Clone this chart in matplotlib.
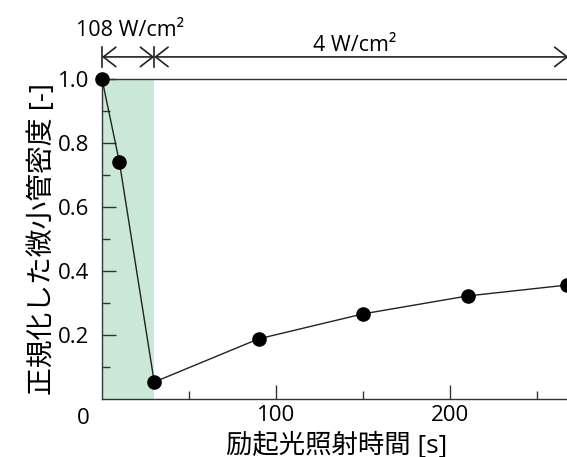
import matplotlib
matplotlib.use("Agg")
import matplotlib.pyplot as plt
from matplotlib.ticker import FixedLocator

plt.rcParams['font.family'] = ['Open Sans', 'Noto Sans CJK JP', 'DejaVu Sans']

# data
time_s = [0, 10, 30, 90, 150, 210, 267]
density = [1.0, 0.74, 0.053, 0.188, 0.266, 0.322, 0.356]
high_end = 30
x_end = 270
label_high = "108 W/cm²"
label_low = "4 W/cm²"
xlabel = "励起光照射時間 [s]"
ylabel = "正規化した微小管密度 [-]"

W, H = 567, 457
fig = plt.figure(figsize=(W / 100, H / 100), dpi=100)
left, right, bottom, top = 102, 572, 399, 79
ax = fig.add_axes([left / W, (H - bottom) / H, (right - left) / W, (bottom - top) / H])

ax.axvspan(0, high_end, color='#cae8d7', lw=0, zorder=0)
ax.plot(time_s, density, color='#222222', lw=1.0, marker='o', ms=9.5,
        mfc='black', mec='black', zorder=3, clip_on=False)

ax.set_xlim(0, x_end)
ax.set_ylim(0, 1.0)
ax.xaxis.set_major_locator(FixedLocator([100, 200]))
ax.xaxis.set_minor_locator(FixedLocator([50, 150, 250]))
ax.yaxis.set_major_locator(FixedLocator([0.2, 0.4, 0.6, 0.8, 1.0]))
ax.yaxis.set_minor_locator(FixedLocator([0.1, 0.3, 0.5, 0.7, 0.9]))
ax.set_yticklabels(['0.2', '0.4', '0.6', '0.8', '1.0'])
ax.tick_params(which='both', direction='in', labelsize=16, color='#333333')
ax.tick_params(which='major', length=10, width=1)
ax.tick_params(which='minor', length=6, width=1)
ax.tick_params(axis='x', pad=4)
ax.tick_params(axis='y', pad=9)
for s in ['left', 'bottom', 'top']:
    ax.spines[s].set_color('#333333')
    ax.spines[s].set_linewidth(1.0)
ax.spines['right'].set_visible(False)

ax.text(-11, -0.06, "0", fontsize=16, ha='center', va='center', clip_on=False)

fig.text(337 / W, 1 - 445 / H, xlabel, fontsize=19, ha='center', va='center')
ax.set_ylabel(ylabel, fontsize=20, labelpad=1)

# annotations
ya = 1.069
for xv in [0, high_end]:
    ax.plot([xv, xv], [1.037, 1.10], color='#222222', lw=1.2, clip_on=False)
ap = dict(arrowstyle='<->,head_length=0.45,head_width=0.35', shrinkA=0, shrinkB=0,
          lw=1.2, color='#222222', mutation_scale=20)
ax.annotate('', xy=(0, ya), xytext=(high_end, ya), arrowprops=ap, annotation_clip=False)
ax.annotate('', xy=(high_end, ya), xytext=(x_end - 2, ya), arrowprops=ap, annotation_clip=False)
ax.text(16, 1.15, label_high, fontsize=15.5, ha='center', va='center')
ax.text(145, 1.105, label_low, fontsize=15.5, ha='center', va='center')

fig.savefig("out.png", dpi=100)
